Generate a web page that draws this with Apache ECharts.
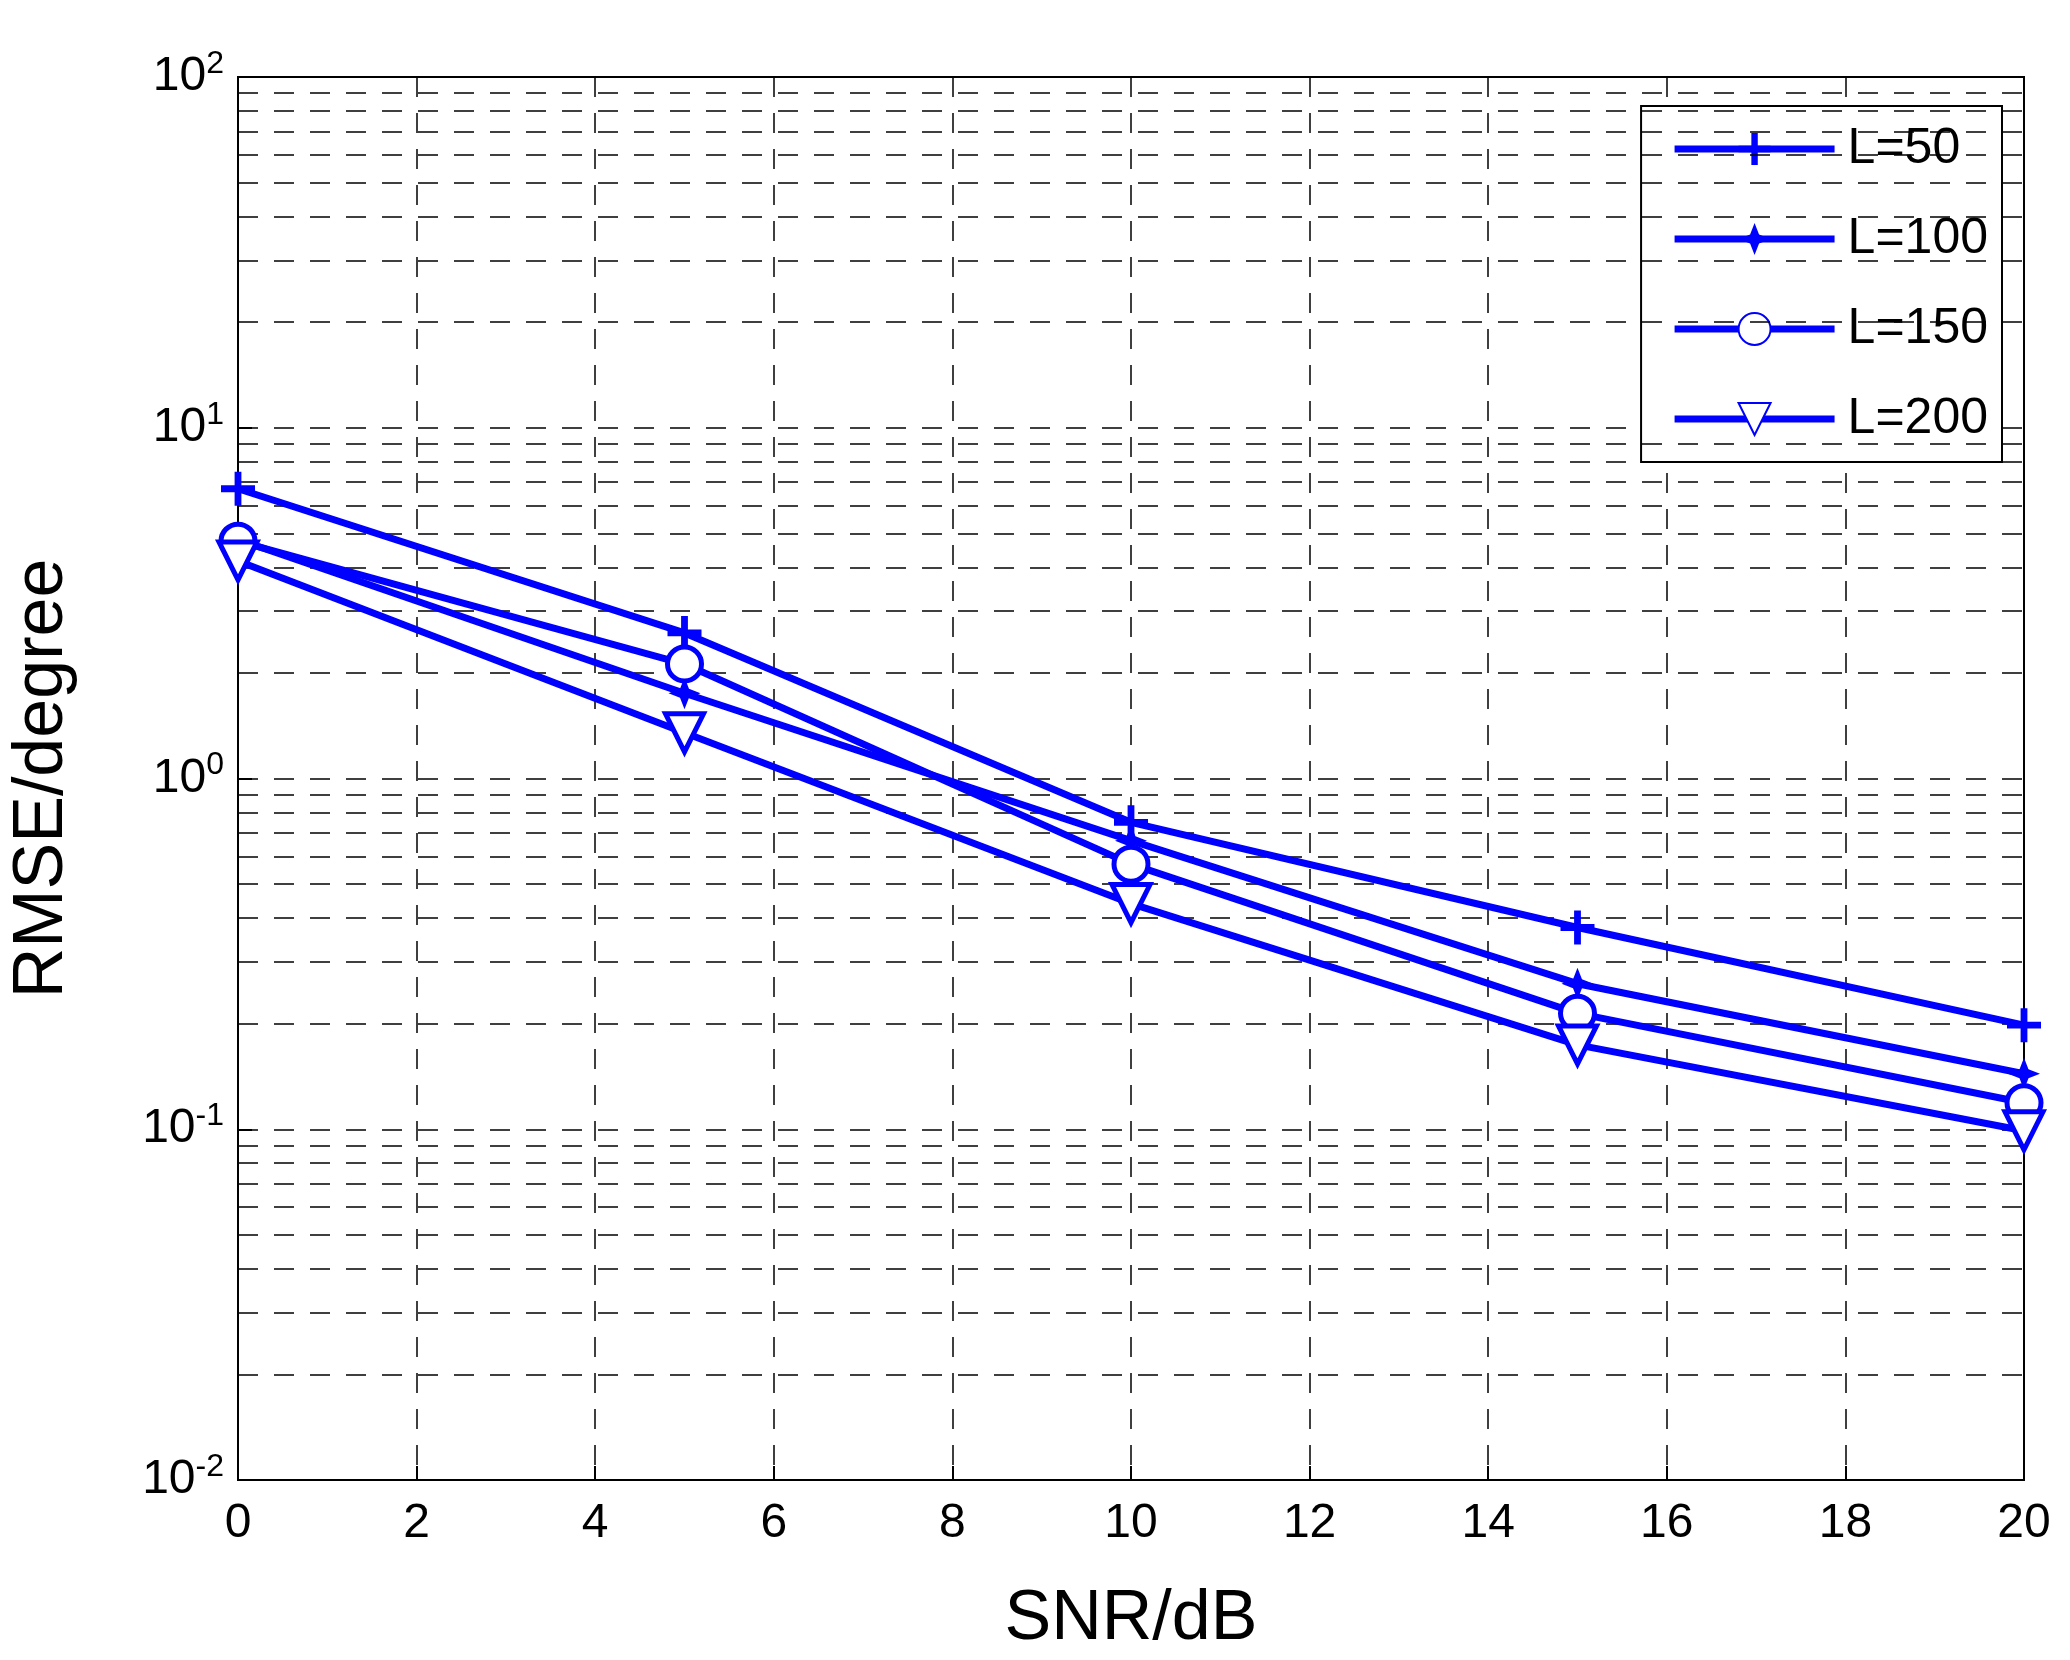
<!DOCTYPE html>
<html>
<head>
<meta charset="utf-8">
<script src="https://cdn.jsdelivr.net/npm/echarts@6/dist/echarts.min.js"></script>
<style>html,body{margin:0;background:#fff}#main{width:2070px;height:1660px}</style>
</head>
<body>
<div id="main"></div>
<script>
var snr = [0, 5, 10, 15, 20];
var rmseL50  = [6.7, 2.6, 0.75, 0.376, 0.198];
var rmseL100 = [4.8, 1.75, 0.665, 0.26, 0.144];
var rmseL150 = [4.75, 2.12, 0.57, 0.214, 0.119];
var rmseL200 = [4.17, 1.35, 0.44, 0.174, 0.099];
var names = ['L=50', 'L=100', 'L=150', 'L=200'];
// minor log gridlines: 2..9 in each decade
var minorGrid = [];
[0.01, 0.1, 1, 10].forEach(function (d) {
  for (var k = 2; k <= 9; k++) minorGrid.push({ yAxis: +(d * k).toPrecision(3) });
});

var blue = '#0000ff';
var plus = 'path://M4,0h2v4h4v2h-4v4h-2v-4h-4v-2h4z';
var star = 'path://M5,0L6.4,3.6L10,5L6.4,6.4L5,10L3.6,6.4L0,5L3.6,3.6Z';

function mk(name, data, symbol, size, hollow, rot) {
  return {
    name: name, type: 'line', data: snr.map(function (x, i) { return [x, data[i]]; }),
    symbol: symbol, symbolSize: size, symbolRotate: rot || 0,
    lineStyle: { color: blue, width: 7 },
    itemStyle: hollow ? { color: '#fff', borderColor: blue, borderWidth: 5 } : { color: blue },
    z: 5
  };
}

var chart = echarts.init(document.getElementById('main'));
chart.setOption({
  animation: false,
  textStyle: { fontFamily: 'Liberation Sans, Arial, sans-serif' },
  grid: { left: 235, right: 46, top: 77, bottom: 170, show: true, borderColor: '#000', borderWidth: 2 },
  legend: {
    orient: 'vertical', right: 68, top: 106, padding: [18, 14, 18, 30],
    borderColor: '#000', borderWidth: 2, backgroundColor: '#fff',
    itemWidth: 160, itemHeight: 40, itemGap: 40,
    lineStyle: { width: 7 },
    textStyle: { fontSize: 50, color: '#000', padding: [0, 0, 0, 8] }, data: names
  },
  xAxis: {
    type: 'value', min: 0, max: 20, interval: 2,
    name: 'SNR/dB', nameLocation: 'middle', nameGap: 105,
    nameTextStyle: { fontSize: 70, color: '#000' },
    axisLine: { lineStyle: { color: '#000', width: 2 } },
    axisTick: { inside: true, length: 14, lineStyle: { color: '#000', width: 2 } },
    axisLabel: { fontSize: 48, color: '#000', margin: 20 },
    splitLine: { lineStyle: { color: '#000', type: [20, 16], width: 1.5 } }
  },
  yAxis: {
    type: 'log', logBase: 10, min: 0.01, max: 100,
    name: 'RMSE/degree', nameLocation: 'middle', nameGap: 160,
    nameTextStyle: { fontSize: 70, color: '#000' },
    axisLine: { lineStyle: { color: '#000', width: 2 } },
    axisTick: { inside: true, length: 14, lineStyle: { color: '#000', width: 2 } },
    axisLabel: {
      color: '#000', margin: 14,
      formatter: function (v) { return '{b|10}{s|' + Math.round(Math.log10(v)) + '}'; },
      rich: { b: { fontSize: 48, color: '#000' }, s: { fontSize: 32, color: '#000', verticalAlign: 'top', padding: [0, 0, 26, 0] } }
    },
    splitLine: { lineStyle: { color: '#000', type: [20, 16], width: 1.5 } }
  },
  series: [
    {
      type: 'line', data: [], silent: true, z: 1,
      markLine: {
        silent: true, symbol: 'none', label: { show: false },
        lineStyle: { color: '#000', type: [20, 16], width: 1.5 },
        data: minorGrid
      }
    },
    mk('L=50', rmseL50, plus, 34, false),
    mk('L=100', rmseL100, star, 32, false),
    mk('L=150', rmseL150, 'circle', 34, true),
    mk('L=200', rmseL200, 'triangle', 38, true, 180)
  ]
});
</script>
</body>
</html>
